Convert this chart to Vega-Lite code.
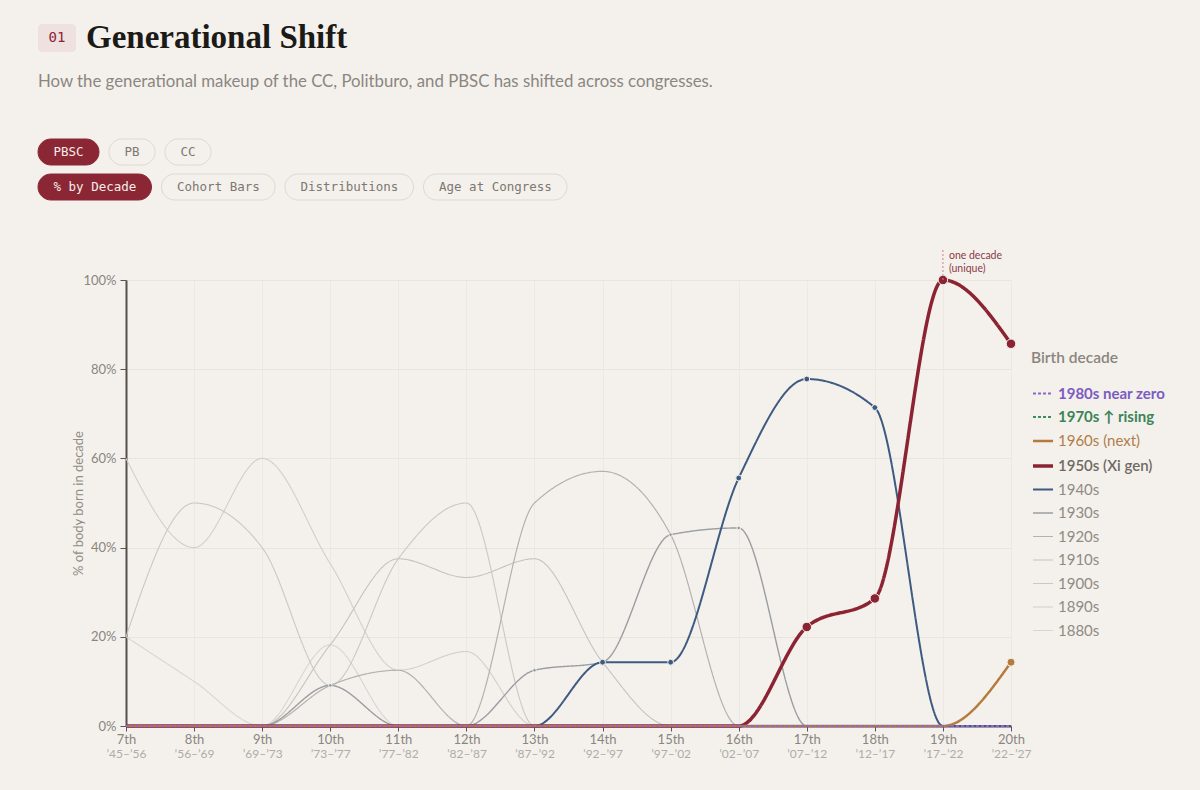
{
  "$schema": "https://vega.github.io/schema/vega-lite/v6.json",
  "background": "#f4f1ec",
  "padding": {"left": 37, "top": 22, "right": 60, "bottom": 60},
  "bounds": "flush",
  "spacing": 93,
  "config": {
    "view": {"stroke": null},
    "font": "Lato",
    "axis": {"labelFont": "Lato", "titleFont": "Lato"},
    "legend": {"labelFont": "Lato", "titleFont": "Lato"}
  },
  "datasets": {
    "pbsc": [
      {"n":7,"d":"1880s","v":20},{"n":8,"d":"1880s","v":10},{"n":9,"d":"1880s","v":0},{"n":10,"d":"1880s","v":18.2},{"n":11,"d":"1880s","v":0},{"n":12,"d":"1880s","v":0},{"n":13,"d":"1880s","v":0},{"n":14,"d":"1880s","v":0},{"n":15,"d":"1880s","v":0},{"n":16,"d":"1880s","v":0},{"n":17,"d":"1880s","v":0},{"n":18,"d":"1880s","v":0},{"n":19,"d":"1880s","v":0},{"n":20,"d":"1880s","v":0},
      {"n":7,"d":"1890s","v":60},{"n":8,"d":"1890s","v":40},{"n":9,"d":"1890s","v":60},{"n":10,"d":"1890s","v":36.4},{"n":11,"d":"1890s","v":12.5},{"n":12,"d":"1890s","v":16.7},{"n":13,"d":"1890s","v":0},{"n":14,"d":"1890s","v":0},{"n":15,"d":"1890s","v":0},{"n":16,"d":"1890s","v":0},{"n":17,"d":"1890s","v":0},{"n":18,"d":"1890s","v":0},{"n":19,"d":"1890s","v":0},{"n":20,"d":"1890s","v":0},
      {"n":7,"d":"1900s","v":20},{"n":8,"d":"1900s","v":50},{"n":9,"d":"1900s","v":40},{"n":10,"d":"1900s","v":9.1},{"n":11,"d":"1900s","v":37.5},{"n":12,"d":"1900s","v":50},{"n":13,"d":"1900s","v":0},{"n":14,"d":"1900s","v":0},{"n":15,"d":"1900s","v":0},{"n":16,"d":"1900s","v":0},{"n":17,"d":"1900s","v":0},{"n":18,"d":"1900s","v":0},{"n":19,"d":"1900s","v":0},{"n":20,"d":"1900s","v":0},
      {"n":7,"d":"1910s","v":0},{"n":8,"d":"1910s","v":0},{"n":9,"d":"1910s","v":0},{"n":10,"d":"1910s","v":18.2},{"n":11,"d":"1910s","v":37.5},{"n":12,"d":"1910s","v":33.3},{"n":13,"d":"1910s","v":37.5},{"n":14,"d":"1910s","v":14.3},{"n":15,"d":"1910s","v":0},{"n":16,"d":"1910s","v":0},{"n":17,"d":"1910s","v":0},{"n":18,"d":"1910s","v":0},{"n":19,"d":"1910s","v":0},{"n":20,"d":"1910s","v":0},
      {"n":7,"d":"1920s","v":0},{"n":8,"d":"1920s","v":0},{"n":9,"d":"1920s","v":0},{"n":10,"d":"1920s","v":9.1},{"n":11,"d":"1920s","v":12.5},{"n":12,"d":"1920s","v":0},{"n":13,"d":"1920s","v":50},{"n":14,"d":"1920s","v":57.1},{"n":15,"d":"1920s","v":42.9},{"n":16,"d":"1920s","v":0},{"n":17,"d":"1920s","v":0},{"n":18,"d":"1920s","v":0},{"n":19,"d":"1920s","v":0},{"n":20,"d":"1920s","v":0},
      {"n":7,"d":"1930s","v":0},{"n":8,"d":"1930s","v":0},{"n":9,"d":"1930s","v":0},{"n":10,"d":"1930s","v":9.1},{"n":11,"d":"1930s","v":0},{"n":12,"d":"1930s","v":0},{"n":13,"d":"1930s","v":12.5},{"n":14,"d":"1930s","v":14.3},{"n":15,"d":"1930s","v":42.9},{"n":16,"d":"1930s","v":44.4},{"n":17,"d":"1930s","v":0},{"n":18,"d":"1930s","v":0},{"n":19,"d":"1930s","v":0},{"n":20,"d":"1930s","v":0},
      {"n":7,"d":"1940s","v":0},{"n":8,"d":"1940s","v":0},{"n":9,"d":"1940s","v":0},{"n":10,"d":"1940s","v":0},{"n":11,"d":"1940s","v":0},{"n":12,"d":"1940s","v":0},{"n":13,"d":"1940s","v":0},{"n":14,"d":"1940s","v":14.3},{"n":15,"d":"1940s","v":14.3},{"n":16,"d":"1940s","v":55.6},{"n":17,"d":"1940s","v":77.8},{"n":18,"d":"1940s","v":71.4},{"n":19,"d":"1940s","v":0},{"n":20,"d":"1940s","v":0},
      {"n":7,"d":"1950s","v":0},{"n":8,"d":"1950s","v":0},{"n":9,"d":"1950s","v":0},{"n":10,"d":"1950s","v":0},{"n":11,"d":"1950s","v":0},{"n":12,"d":"1950s","v":0},{"n":13,"d":"1950s","v":0},{"n":14,"d":"1950s","v":0},{"n":15,"d":"1950s","v":0},{"n":16,"d":"1950s","v":0},{"n":17,"d":"1950s","v":22.2},{"n":18,"d":"1950s","v":28.6},{"n":19,"d":"1950s","v":100},{"n":20,"d":"1950s","v":85.7},
      {"n":7,"d":"1960s","v":0},{"n":8,"d":"1960s","v":0},{"n":9,"d":"1960s","v":0},{"n":10,"d":"1960s","v":0},{"n":11,"d":"1960s","v":0},{"n":12,"d":"1960s","v":0},{"n":13,"d":"1960s","v":0},{"n":14,"d":"1960s","v":0},{"n":15,"d":"1960s","v":0},{"n":16,"d":"1960s","v":0},{"n":17,"d":"1960s","v":0},{"n":18,"d":"1960s","v":0},{"n":19,"d":"1960s","v":0},{"n":20,"d":"1960s","v":14.3},
      {"n":7,"d":"1970s","v":0},{"n":8,"d":"1970s","v":0},{"n":9,"d":"1970s","v":0},{"n":10,"d":"1970s","v":0},{"n":11,"d":"1970s","v":0},{"n":12,"d":"1970s","v":0},{"n":13,"d":"1970s","v":0},{"n":14,"d":"1970s","v":0},{"n":15,"d":"1970s","v":0},{"n":16,"d":"1970s","v":0},{"n":17,"d":"1970s","v":0},{"n":18,"d":"1970s","v":0},{"n":19,"d":"1970s","v":0},{"n":20,"d":"1970s","v":0},
      {"n":7,"d":"1980s","v":0},{"n":8,"d":"1980s","v":0},{"n":9,"d":"1980s","v":0},{"n":10,"d":"1980s","v":0},{"n":11,"d":"1980s","v":0},{"n":12,"d":"1980s","v":0},{"n":13,"d":"1980s","v":0},{"n":14,"d":"1980s","v":0},{"n":15,"d":"1980s","v":0},{"n":16,"d":"1980s","v":0},{"n":17,"d":"1980s","v":0},{"n":18,"d":"1980s","v":0},{"n":19,"d":"1980s","v":0},{"n":20,"d":"1980s","v":0}
    ]
  },
  "vconcat": [
    {
      "width": 885,
      "height": 140,
      "data": {"values": [
        {"row": "heading", "kind": "badge", "label": "01", "active": false},
        {"row": "heading", "kind": "title", "label": "Generational Shift", "active": false},
        {"row": "subtitle", "kind": "subtitle", "label": "How the generational makeup of the CC, Politburo, and PBSC has shifted across congresses.", "active": false},
        {"row": "body", "kind": "button", "label": "PBSC", "active": true},
        {"row": "body", "kind": "button", "label": "PB", "active": false},
        {"row": "body", "kind": "button", "label": "CC", "active": false},
        {"row": "view", "kind": "button", "label": "% by Decade", "active": true},
        {"row": "view", "kind": "button", "label": "Cohort Bars", "active": false},
        {"row": "view", "kind": "button", "label": "Distributions", "active": false},
        {"row": "view", "kind": "button", "label": "Age at Congress", "active": false}
      ]},
      "transform": [
        {"calculate": "datum.kind == 'badge' ? 38 : datum.kind == 'button' ? length(datum.label) * 7.5 + 31 : 0", "as": "w"},
        {"window": [{"op": "sum", "field": "w", "as": "cum"}, {"op": "row_number", "as": "rn"}], "groupby": ["row"], "frame": [null, 0]},
        {"calculate": "datum.cum - datum.w + (datum.rn - 1) * 10", "as": "x0"},
        {"calculate": "datum.x0 + datum.w", "as": "x1"}
      ],
      "encoding": {
        "y": {"field": "row", "type": "nominal", "scale": {"type": "point", "domain": ["heading", "subtitle", "gap", "body", "view"], "padding": 0}, "axis": null},
        "x": {"field": "x0", "type": "quantitative", "scale": {"domain": [88, 973], "nice": false, "zero": false}, "axis": null}
      },
      "layer": [
        {
          "transform": [{"filter": "datum.kind == 'button'"}],
          "mark": {"type": "rect", "height": 26, "cornerRadius": 13, "strokeWidth": 1},
          "encoding": {
            "x2": {"field": "x1"},
            "fill": {"condition": {"test": "datum.active", "value": "#8b2635"}, "value": "#f4f1ec"},
            "stroke": {"condition": {"test": "datum.active", "value": "#8b2635"}, "value": "#ddd7d0"}
          }
        },
        {
          "transform": [{"filter": "datum.kind == 'button'"}],
          "mark": {"type": "text", "align": "left", "baseline": "middle", "dx": 15.5, "font": "DejaVu Sans Mono", "fontSize": 12.5},
          "encoding": {
            "text": {"field": "label"},
            "fill": {"condition": {"test": "datum.active", "value": "#f6eee8"}, "value": "#7d7771"}
          }
        },
        {
          "transform": [{"filter": "datum.kind == 'badge'"}],
          "mark": {"type": "rect", "height": 28, "cornerRadius": 4, "yOffset": -9, "fill": "#eee1df"},
          "encoding": {"x2": {"field": "x1"}}
        },
        {
          "transform": [{"filter": "datum.kind == 'badge'"}],
          "mark": {"type": "text", "align": "center", "baseline": "middle", "dx": 19, "dy": -9, "font": "DejaVu Sans Mono", "fontSize": 14, "fill": "#8b2635"},
          "encoding": {"text": {"field": "label"}}
        },
        {
          "transform": [{"filter": "datum.kind == 'title'"}],
          "mark": {"type": "text", "align": "left", "baseline": "middle", "dy": -9, "font": "Liberation Serif", "fontSize": 33, "fontWeight": "bold", "fill": "#1c1a17"},
          "encoding": {"text": {"field": "label"}}
        },
        {
          "transform": [{"filter": "datum.kind == 'subtitle'"}],
          "mark": {"type": "text", "align": "left", "baseline": "middle", "font": "Lato", "fontSize": 16.8, "fill": "#8b8680"},
          "encoding": {"text": {"field": "label"}}
        }
      ]
    },
    {
      "width": 885,
      "height": 446,
      "resolve": {"axis": {"x": "independent"}},
      "layer": [
        {
          "data": {"name": "pbsc"},
          "mark": {"type": "line", "interpolate": "monotone"},
          "encoding": {
            "x": {"field": "n", "type": "quantitative", "scale": {"domain": [7, 20], "nice": false, "zero": false},
              "axis": {"orient": "bottom", "title": null, "values": [7,8,9,10,11,12,13,14,15,16,17,18,19,20], "labelExpr": "datum.value + 'th'", "labelColor": "#8a857f", "labelFontSize": 13, "labelPadding": 2, "tickSize": 5, "tickColor": "#5a554f", "domainColor": "#4e4944", "domainWidth": 2, "grid": true, "gridColor": "#ece8e2", "labelFlush": false}},
            "y": {"field": "v", "type": "quantitative", "scale": {"domain": [0, 100], "nice": false},
              "axis": {"title": "% of body born in decade", "titleColor": "#918c86", "titleFontSize": 13, "titleFontWeight": "normal", "titlePadding": -3, "values": [0, 20, 40, 60, 80, 100], "labelExpr": "datum.value + '%'", "labelColor": "#8a857f", "labelFontSize": 13, "labelPadding": 4, "tickSize": 6, "tickColor": "#5a554f", "domainColor": "#55504b", "domainWidth": 2, "gridColor": "#e8e4de"}},
            "color": {"field": "d", "type": "nominal",
              "scale": {"domain": ["1980s", "1970s", "1960s", "1950s", "1940s", "1930s", "1920s", "1910s", "1900s", "1890s", "1880s"],
                "range": ["#8c66cc", "#3f8a5c", "#b57a3c", "#8b2332", "#3d5a80", "#9a9da1", "#b4b2ae", "#c6c3be", "#cbc8c3", "#d2cfca", "#d8d5d0"]},
              "legend": {"title": "Birth decade", "orient": "none", "legendX": 905, "legendY": 304, "titleColor": "#8a857f", "titleFontSize": 15.5, "titleFontWeight": 600, "titlePadding": 16,
                "labelFontSize": 15, "labelOffset": 3, "symbolType": "stroke", "symbolSize": 400, "symbolStrokeWidth": 2.5, "rowPadding": 4.5,
                "labelExpr": "datum.value == '1980s' ? '1980s near zero' : datum.value == '1970s' ? '1970s ↑ rising' : datum.value == '1960s' ? '1960s (next)' : datum.value == '1950s' ? '1950s (Xi gen)' : datum.value",
                "labelColor": {"expr": "datum.value == '1980s' ? '#7b5cc2' : datum.value == '1970s' ? '#3b8458' : datum.value == '1960s' ? '#b27d4a' : datum.value == '1950s' ? '#6f6964' : '#908b85'"},
                "labelFontWeight": {"expr": "datum.value == '1980s' || datum.value == '1970s' ? 'bold' : datum.value == '1950s' ? 600 : 'normal'"}}},
            "strokeDash": {"field": "d", "type": "nominal",
              "scale": {"domain": ["1980s", "1970s", "1960s", "1950s", "1940s", "1930s", "1920s", "1910s", "1900s", "1890s", "1880s"],
                "range": [[3, 2], [3, 2], [1, 0], [1, 0], [1, 0], [1, 0], [1, 0], [1, 0], [1, 0], [1, 0], [1, 0]]}},
            "strokeWidth": {"field": "d", "type": "nominal",
              "scale": {"type": "ordinal", "domain": ["1980s", "1970s", "1960s", "1950s", "1940s", "1930s", "1920s", "1910s", "1900s", "1890s", "1880s"],
                "range": [2, 2, 2.5, 3.5, 2, 1.4, 1.2, 1.1, 1.1, 1.1, 1.1]}, "legend": null}
          }
        },
        {
          "data": {"name": "pbsc"},
          "transform": [{"filter": "datum.v > 0 && indexof(['1930s', '1940s', '1950s', '1960s'], datum.d) >= 0"}],
          "mark": {"type": "point", "filled": true, "opacity": 1, "stroke": "#f4f1ec", "strokeWidth": 1},
          "encoding": {
            "x": {"field": "n", "type": "quantitative", "axis": null},
            "y": {"field": "v", "type": "quantitative"},
            "fill": {"field": "d", "type": "nominal", "scale": {"domain": ["1930s", "1940s", "1950s", "1960s"], "range": ["#8f9297", "#3d5a80", "#8b2332", "#b57a3c"]}, "legend": null},
            "size": {"field": "d", "type": "nominal", "scale": {"type": "ordinal", "domain": ["1930s", "1940s", "1950s", "1960s"], "range": [12, 34, 90, 64]}, "legend": null}
          }
        },
        {
          "data": {"values": [{"n": 19, "v": 100, "note": ["one decade", "(unique)"]}]},
          "mark": {"type": "rule", "strokeDash": [2, 2], "color": "#c4868f", "strokeWidth": 1},
          "encoding": {
            "x": {"field": "n", "type": "quantitative",
              "axis": {"orient": "bottom", "title": null, "values": [7,8,9,10,11,12,13,14,15,16,17,18,19,20], "labelExpr": "['’45–’56','’56–’69','’69–’73','’73–’77','’77–’82','’82–’87','’87–’92','’92–’97','’97–’02','’02–’07','’07–’12','’12–’17','’17–’22','’22–’27'][datum.value - 7]", "labelColor": "#b0aba5", "labelFontSize": 12, "labelPadding": 22, "ticks": false, "domain": false, "grid": false, "labelFlush": false}},
            "y": {"field": "v", "type": "quantitative"},
            "y2": {"datum": 107}
          }
        },
        {
          "data": {"values": [{"n": 19, "v": 100, "note": ["one decade", "(unique)"]}]},
          "mark": {"type": "text", "align": "left", "baseline": "bottom", "dx": 6, "dy": -19, "fontSize": 10.5, "lineHeight": 13, "fill": "#8b3a46", "font": "Lato"},
          "encoding": {
            "x": {"field": "n", "type": "quantitative", "axis": null},
            "y": {"field": "v", "type": "quantitative"},
            "text": {"field": "note"}
          }
        }
      ]
    }
  ]
}
